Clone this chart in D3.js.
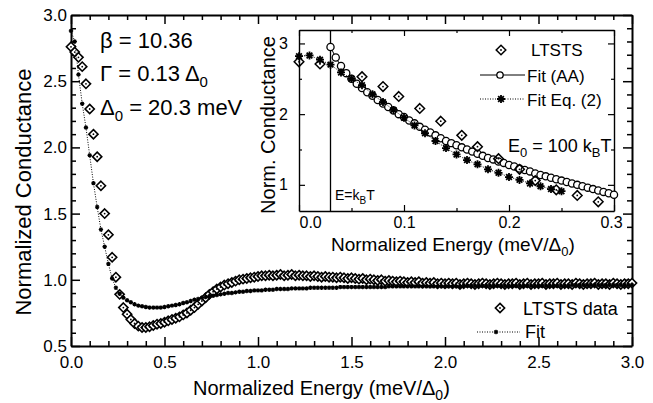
<!DOCTYPE html>
<html>
<head>
<meta charset="utf-8">
<script src="https://cdn.jsdelivr.net/npm/d3@7"></script>
<style>
  body { margin: 0; background: #fff; }
  svg { display: block; font-family: "Liberation Sans", Arial, Helvetica, sans-serif; }
  .axis text { fill: #000; }
  .axis path, .axis line { stroke: #000; }
</style>
</head>
<body>
<div id="chart"></div>
<script>
// ---- main panel data (energy in meV/Delta0, normalized conductance) ----
var mainEnergy = [
  0.00, 0.02, 0.04, 0.06, 0.08, 0.10, 0.12, 0.14, 0.16, 0.18,
  0.20, 0.22, 0.24, 0.26, 0.28, 0.30, 0.32, 0.34, 0.36, 0.38,
  0.40, 0.42, 0.44, 0.46, 0.48, 0.50, 0.52, 0.54, 0.56, 0.58,
  0.60, 0.62, 0.64, 0.66, 0.68, 0.70, 0.72, 0.74, 0.76, 0.78,
  0.80, 0.82, 0.84, 0.86, 0.88, 0.90, 0.92, 0.94, 0.96, 0.98,
  1.00, 1.02, 1.04, 1.06, 1.08, 1.10, 1.12, 1.14, 1.16, 1.18,
  1.20, 1.22, 1.24, 1.26, 1.28, 1.30, 1.32, 1.34, 1.36, 1.38,
  1.40, 1.42, 1.44, 1.46, 1.48, 1.50, 1.52, 1.54, 1.56, 1.58,
  1.60, 1.62, 1.64, 1.66, 1.68, 1.70, 1.72, 1.74, 1.76, 1.78,
  1.80, 1.82, 1.84, 1.86, 1.88, 1.90, 1.92, 1.94, 1.96, 1.98,
  2.00, 2.02, 2.04, 2.06, 2.08, 2.10, 2.12, 2.14, 2.16, 2.18,
  2.20, 2.22, 2.24, 2.26, 2.28, 2.30, 2.32, 2.34, 2.36, 2.38,
  2.40, 2.42, 2.44, 2.46, 2.48, 2.50, 2.52, 2.54, 2.56, 2.58,
  2.60, 2.62, 2.64, 2.66, 2.68, 2.70, 2.72, 2.74, 2.76, 2.78,
  2.80, 2.82, 2.84, 2.86, 2.88, 2.90, 2.92, 2.94, 2.96, 2.98,
  3.00
];
var ltstsData = [
  2.76, 2.72, 2.68, 2.61, 2.48, 2.29, 2.10, 1.93, 1.71, 1.50,
  1.34, 1.17, 1.02, 0.89, 0.79, 0.74, 0.70, 0.67, 0.65, 0.64,
  0.64, 0.645, 0.655, 0.665, 0.67, 0.68, 0.69, 0.70, 0.71, 0.72,
  0.735, 0.75, 0.77, 0.79, 0.815, 0.84, 0.865, 0.89, 0.91, 0.93,
  0.945, 0.96, 0.97, 0.98, 0.99, 1.00, 1.005, 1.01, 1.015, 1.02,
  1.025, 1.03, 1.03, 1.035, 1.03, 1.035, 1.04, 1.03, 1.035, 1.04,
  1.03, 1.035, 1.03, 1.03, 1.025, 1.03, 1.025, 1.02, 1.025, 1.02,
  1.02, 1.015, 1.02, 1.015, 1.01, 1.015, 1.01, 1.005, 1.01, 1.00,
  1.005, 1.00, 0.995, 1.00, 0.99, 0.995, 0.99, 0.985, 0.99, 0.985,
  0.98, 0.985, 0.98, 0.985, 0.975, 0.98, 0.975, 0.98, 0.97, 0.975,
  0.97, 0.975, 0.97, 0.975, 0.965, 0.97, 0.975, 0.97, 0.965, 0.97,
  0.975, 0.97, 0.965, 0.97, 0.975, 0.97, 0.965, 0.97, 0.97, 0.975,
  0.965, 0.97, 0.975, 0.965, 0.97, 0.97, 0.975, 0.965, 0.97, 0.97,
  0.975, 0.965, 0.97, 0.97, 0.965, 0.975, 0.97, 0.965, 0.97, 0.97,
  0.975, 0.965, 0.97, 0.97, 0.965, 0.975, 0.97, 0.965, 0.97, 0.97,
  0.975
];
var fitData = [
  2.88, 2.80, 2.55, 2.33, 2.15, 1.94, 1.73, 1.55, 1.38, 1.25,
  1.12, 1.01, 0.94, 0.895, 0.865, 0.845, 0.83, 0.815, 0.805, 0.80,
  0.795, 0.79, 0.79, 0.79, 0.79, 0.795, 0.80, 0.805, 0.81, 0.815,
  0.825, 0.83, 0.84, 0.85, 0.855, 0.865, 0.87, 0.875, 0.88, 0.885,
  0.89, 0.895, 0.90, 0.90, 0.905, 0.91, 0.91, 0.915, 0.915, 0.92,
  0.92, 0.92, 0.925, 0.925, 0.925, 0.93, 0.93, 0.93, 0.93, 0.935,
  0.935, 0.935, 0.935, 0.935, 0.94, 0.94, 0.94, 0.94, 0.94, 0.94,
  0.94, 0.94, 0.945, 0.945, 0.945, 0.945, 0.945, 0.945, 0.945, 0.945,
  0.945, 0.945, 0.945, 0.945, 0.945, 0.95, 0.95, 0.95, 0.95, 0.95,
  0.95, 0.95, 0.95, 0.95, 0.95, 0.95, 0.95, 0.95, 0.95, 0.95,
  0.95, 0.95, 0.95, 0.95, 0.95, 0.955, 0.955, 0.955, 0.955, 0.955,
  0.955, 0.955, 0.955, 0.955, 0.955, 0.955, 0.955, 0.955, 0.955, 0.955,
  0.955, 0.955, 0.955, 0.955, 0.955, 0.955, 0.955, 0.955, 0.955, 0.955,
  0.955, 0.955, 0.955, 0.955, 0.96, 0.96, 0.96, 0.96, 0.96, 0.96,
  0.96, 0.96, 0.96, 0.96, 0.96, 0.96, 0.96, 0.96, 0.96, 0.96,
  0.96
];

// ---- inset data ----
var insetLtstsE = [0.0, 0.02, 0.06, 0.08, 0.095, 0.115, 0.135, 0.155, 0.17, 0.19, 0.21, 0.225, 0.245, 0.265, 0.285];
var insetLtstsG = [2.74, 2.71, 2.53, 2.39, 2.25, 2.08, 1.90, 1.70, 1.54, 1.37, 1.22, 1.06, 0.93, 0.85, 0.76];

var fitAAE = [
  0.030, 0.035, 0.040, 0.045, 0.050, 0.055, 0.060, 0.065, 0.070, 0.075,
  0.080, 0.085, 0.090, 0.095, 0.100, 0.105, 0.110, 0.115, 0.120, 0.125,
  0.130, 0.135, 0.140, 0.145, 0.150, 0.155, 0.160, 0.165, 0.170, 0.175,
  0.180, 0.185, 0.190, 0.195, 0.200, 0.205, 0.210, 0.215, 0.220, 0.225,
  0.230, 0.235, 0.240, 0.245, 0.250, 0.255, 0.260, 0.265, 0.270, 0.275,
  0.280, 0.285, 0.290, 0.295, 0.300
];
var fitAAG = [
  2.95, 2.80, 2.68, 2.58, 2.50, 2.43, 2.37, 2.31, 2.26, 2.20,
  2.15, 2.10, 2.05, 2.00, 1.96, 1.91, 1.87, 1.82, 1.78, 1.74,
  1.70, 1.66, 1.62, 1.59, 1.56, 1.53, 1.50, 1.47, 1.44, 1.41,
  1.38, 1.36, 1.33, 1.31, 1.28, 1.26, 1.23, 1.21, 1.19, 1.16,
  1.14, 1.12, 1.10, 1.08, 1.06, 1.04, 1.02, 1.00, 0.98, 0.96,
  0.94, 0.92, 0.90, 0.88, 0.86
];

var fitEq2E = [0.00, 0.01, 0.02, 0.03, 0.04, 0.05, 0.06, 0.07, 0.08, 0.09,
               0.10, 0.11, 0.12, 0.13, 0.14, 0.15, 0.16, 0.17, 0.18, 0.19,
               0.20, 0.21, 0.22, 0.23, 0.24, 0.25];
var fitEq2G = [2.82, 2.83, 2.77, 2.70, 2.59, 2.50, 2.41, 2.28, 2.17, 2.06,
               1.95, 1.84, 1.73, 1.62, 1.52, 1.43, 1.35, 1.29, 1.22, 1.17,
               1.11, 1.07, 1.02, 0.98, 0.94, 0.91];

// ---- tick labels ----
var mainXTicks = [0, 0.5, 1.0, 1.5, 2.0, 2.5, 3.0];
var mainYTicks = [0.5, 1.0, 1.5, 2.0, 2.5, 3.0];
var insetXTicks = [0, 0.1, 0.2, 0.3];
var insetYTicks = [1, 2, 3];

var svgWidth = 653;
var svgHeight = 403;

var svg = d3.select("#chart")
  .append("svg")
  .attr("width", svgWidth)
  .attr("height", svgHeight);

var xMain = d3.scaleLinear().domain([0, 3]).range([71, 632]);
var yMain = d3.scaleLinear().domain([0.5, 3]).range([346, 15]);

var xIn = d3.scaleLinear().domain([0, 0.3]).range([299, 614]);
var yIn = d3.scaleLinear().domain([0.63, 3.19]).range([211, 30]);

function diamond(r) {
  return `M0,${-r}L${r},0L0,${r}L${-r},0Z`;
}
function star(r) {
  var a = r * 0.71;
  return `M${-r},0H${r}M0,${-r}V${r}M${-a},${-a}L${a},${a}M${-a},${a}L${a},${-a}`;
}

// box with inward ticks on all four sides
function boxAxes(x, y, o) {
  var g = svg.append("g").attr("class", "axis");
  var xl = x.range()[0], xr = x.range()[1], yb = y.range()[0], yt = y.range()[1];

  var sides = [
    [d3.axisBottom(x), `translate(0,${yb})`, o.xMajor, o.xMinor, o.xFmt, o.xPad, "bottom"],
    [d3.axisTop(x), `translate(0,${yt})`, o.xMajor, o.xMinor, null, 0, "top"],
    [d3.axisLeft(y), `translate(${xl},0)`, o.yMajor, o.yMinor, o.yFmt, o.yPad, "left"],
    [d3.axisRight(y), `translate(${xr},0)`, o.yMajor, o.yMinor, null, 0, "right"]
  ];
  sides.forEach(function(s) {
    var major = s[0].tickValues(s[2]).tickSizeInner(-o.big).tickSizeOuter(0).tickPadding(s[5])
      .tickFormat(s[4] ? s[4] : "");
    var gm = g.append("g").attr("class", s[6]).attr("transform", s[1]).call(major);
    gm.selectAll("text").attr("font-size", o.font).attr("font-family", null);
    gm.select(".domain").attr("stroke-width", o.width);
    gm.selectAll(".tick line").attr("stroke-width", o.tickWidth);

    var minor = s[0].tickValues(s[3]).tickSizeInner(-o.small).tickFormat("");
    var gn = g.append("g").attr("transform", s[1]).call(minor);
    gn.select(".domain").remove();
    gn.selectAll(".tick line").attr("stroke-width", o.tickWidth);
  });
  return g;
}

// ================= main panel =================
boxAxes(xMain, yMain, {
  xMajor: mainXTicks,
  xMinor: d3.range(0.1, 3, 0.1).filter(v => Math.abs(v * 2 - Math.round(v * 2)) > 1e-6),
  yMajor: mainYTicks,
  yMinor: d3.range(0.6, 3, 0.1).filter(v => Math.abs(v * 2 - Math.round(v * 2)) > 1e-6),
  xFmt: d3.format(".1f"), yFmt: d3.format(".1f"),
  xPad: 10, yPad: 4, font: 17, big: 9, small: 5, width: 2, tickWidth: 1.5
});

var mainPts = mainEnergy.map((e, i) => ({e: e, d: ltstsData[i], f: fitData[i]}));

// LTSTS diamonds
var dg = svg.append("g");
dg.selectAll("path")
  .data(mainPts)
  .enter()
  .append("path")
  .attr("transform", d => `translate(${xMain(d.e)},${yMain(d.d)})`)
  .attr("d", diamond(4.6))
  .attr("fill", "#fff")
  .attr("stroke", "#000")
  .attr("stroke-width", 1.6);
dg.selectAll("circle")
  .data(mainPts)
  .enter()
  .append("circle")
  .attr("cx", d => xMain(d.e))
  .attr("cy", d => yMain(d.d))
  .attr("r", 0.9)
  .attr("fill", "#000");

// Fit: dotted line with small asterisks
svg.append("path")
  .datum(mainPts)
  .attr("d", d3.line().x(d => xMain(d.e)).y(d => yMain(d.f)))
  .attr("fill", "none")
  .attr("stroke", "#000")
  .attr("stroke-width", 1)
  .attr("stroke-dasharray", "1,1.5");
svg.append("g").selectAll("path")
  .data(mainPts)
  .enter()
  .append("path")
  .attr("transform", d => `translate(${xMain(d.e)},${yMain(d.f)})`)
  .attr("d", star(2.2))
  .attr("stroke", "#000")
  .attr("stroke-width", 1.2);

// parameters text
var par = svg.append("g").attr("font-size", 22).attr("fill", "#000");
par.append("text").attr("x", 100).attr("y", 48).text("\u03B2 = 10.36");
var t2 = par.append("text").attr("x", 100).attr("y", 81);
t2.append("tspan").text("\u0393 = 0.13 \u0394");
t2.append("tspan").attr("font-size", 15).attr("dy", 6).text("0");
var t3 = par.append("text").attr("x", 100).attr("y", 115);
t3.append("tspan").text("\u0394");
t3.append("tspan").attr("font-size", 15).attr("dy", 6).text("0");
t3.append("tspan").attr("dy", -6).text(" = 20.3 meV");

// main legend
svg.append("path").attr("transform", "translate(500,308)").attr("d", diamond(4.6))
  .attr("fill", "#fff").attr("stroke", "#000").attr("stroke-width", 1.6);
svg.append("circle").attr("cx", 500).attr("cy", 308).attr("r", 0.9).attr("fill", "#000");
svg.append("text").attr("x", 523).attr("y", 315).attr("font-size", 18).text("LTSTS data");
svg.append("line").attr("x1", 477).attr("x2", 520).attr("y1", 332).attr("y2", 332)
  .attr("stroke", "#000").attr("stroke-width", 1).attr("stroke-dasharray", "1,1.5");
svg.append("path").attr("transform", "translate(496,332)").attr("d", star(2.2))
  .attr("stroke", "#000").attr("stroke-width", 1.2);
svg.append("text").attr("x", 525).attr("y", 338).attr("font-size", 18).text("Fit");

// main axis titles
var xt = svg.append("text").attr("x", 193).attr("y", 395).attr("font-size", 20);
xt.append("tspan").text("Normalized Energy (meV/\u0394");
xt.append("tspan").attr("font-size", 14).attr("dy", 5).text("0");
xt.append("tspan").attr("dy", -5).text(")");

svg.append("text")
  .attr("transform", "translate(31,192) rotate(-90)")
  .attr("text-anchor", "middle")
  .attr("font-size", 22)
  .text("Normalized Conductance");

// ================= inset =================
svg.append("rect")
  .attr("x", xIn.range()[0]).attr("y", yIn.range()[1])
  .attr("width", xIn.range()[1] - xIn.range()[0])
  .attr("height", yIn.range()[0] - yIn.range()[1])
  .attr("fill", "#fff");

var insetAx = boxAxes(xIn, yIn, {
  xMajor: insetXTicks,
  xMinor: [0.05, 0.15, 0.25],
  yMajor: insetYTicks,
  yMinor: [1.5, 2.5],
  xFmt: d3.format(".1f"), yFmt: d3.format("d"),
  xPad: 6, yPad: 11, font: 16, big: 6, small: 3, width: 1.4, tickWidth: 1.2
});
// first inset label sits just inside the frame
insetAx.select(".bottom").selectAll(".tick text")
  .filter(d => d === 0)
  .attr("text-anchor", "start");
insetAx.select(".bottom").selectAll(".tick text")
  .filter(d => d === 0.3)
  .attr("x", -3);

// E = kBT marker line
svg.append("line")
  .attr("x1", xIn(0.03)).attr("x2", xIn(0.03))
  .attr("y1", yIn.range()[0]).attr("y2", yIn.range()[1])
  .attr("stroke", "#000").attr("stroke-width", 1.3);

var aaPts = fitAAE.map((e, i) => ({e: e, g: fitAAG[i]}));
svg.append("path")
  .datum(aaPts)
  .attr("d", d3.line().x(d => xIn(d.e)).y(d => yIn(d.g)))
  .attr("fill", "none").attr("stroke", "#000").attr("stroke-width", 1);
svg.append("g").selectAll("circle")
  .data(aaPts)
  .enter()
  .append("circle")
  .attr("cx", d => xIn(d.e))
  .attr("cy", d => yIn(d.g))
  .attr("r", 3.6)
  .attr("fill", "#fff")
  .attr("stroke", "#000")
  .attr("stroke-width", 1.3);

var eqPts = fitEq2E.map((e, i) => ({e: e, g: fitEq2G[i]}));
svg.append("path")
  .datum(eqPts)
  .attr("d", d3.line().x(d => xIn(d.e)).y(d => yIn(d.g)))
  .attr("fill", "none").attr("stroke", "#000").attr("stroke-width", 1)
  .attr("stroke-dasharray", "1,1.5");
svg.append("g").selectAll("path")
  .data(eqPts)
  .enter()
  .append("path")
  .attr("transform", d => `translate(${xIn(d.e)},${yIn(d.g)})`)
  .attr("d", star(4))
  .attr("stroke", "#000")
  .attr("stroke-width", 1.8);

var inD = insetLtstsE.map((e, i) => ({e: e, g: insetLtstsG[i]}));
var idg = svg.append("g");
idg.selectAll("path")
  .data(inD)
  .enter()
  .append("path")
  .attr("transform", d => `translate(${xIn(d.e)},${yIn(d.g)})`)
  .attr("d", diamond(4.8))
  .attr("fill", "none")
  .attr("stroke", "#000")
  .attr("stroke-width", 1.5);
idg.selectAll("circle")
  .data(inD)
  .enter()
  .append("circle")
  .attr("cx", d => xIn(d.e))
  .attr("cy", d => yIn(d.g))
  .attr("r", 0.9)
  .attr("fill", "#000");

// inset legend
svg.append("path").attr("transform", "translate(501,50)").attr("d", diamond(4.8))
  .attr("fill", "none").attr("stroke", "#000").attr("stroke-width", 1.5);
svg.append("circle").attr("cx", 501).attr("cy", 50).attr("r", 0.9).attr("fill", "#000");
svg.append("text").attr("x", 531).attr("y", 56).attr("font-size", 17).text("LTSTS");

svg.append("line").attr("x1", 480).attr("x2", 525).attr("y1", 75).attr("y2", 75)
  .attr("stroke", "#000").attr("stroke-width", 1);
svg.append("circle").attr("cx", 500).attr("cy", 75).attr("r", 3.2)
  .attr("fill", "#fff").attr("stroke", "#000").attr("stroke-width", 1.3);
svg.append("text").attr("x", 527).attr("y", 82).attr("font-size", 17).text("Fit (AA)");

svg.append("line").attr("x1", 480).attr("x2", 525).attr("y1", 99).attr("y2", 99)
  .attr("stroke", "#000").attr("stroke-width", 1).attr("stroke-dasharray", "1,1.5");
svg.append("path").attr("transform", "translate(501,99)").attr("d", star(4))
  .attr("stroke", "#000").attr("stroke-width", 1.8);
svg.append("text").attr("x", 527).attr("y", 106).attr("font-size", 17).text("Fit Eq. (2)");

var e0 = svg.append("text").attr("x", 508).attr("y", 152).attr("font-size", 18);
e0.append("tspan").text("E");
e0.append("tspan").attr("font-size", 13).attr("dy", 5).text("0");
e0.append("tspan").attr("dy", -5).text(" = 100 k");
e0.append("tspan").attr("font-size", 13).attr("dy", 5).text("B");
e0.append("tspan").attr("dy", -5).text("T");

var ek = svg.append("text").attr("x", 335).attr("y", 200).attr("font-size", 14);
ek.append("tspan").text("E=k");
ek.append("tspan").attr("font-size", 10).attr("dy", 4).text("B");
ek.append("tspan").attr("dy", -4).text("T");

// inset axis titles
var ixt = svg.append("text").attr("x", 331).attr("y", 251).attr("font-size", 19);
ixt.append("tspan").text("Normalized Energy (meV/\u0394");
ixt.append("tspan").attr("font-size", 13).attr("dy", 5).text("0");
ixt.append("tspan").attr("dy", -5).text(")");

svg.append("text")
  .attr("transform", "translate(275,125) rotate(-90)")
  .attr("text-anchor", "middle")
  .attr("font-size", 20)
  .text("Norm. Conductance");
</script>
</body>
</html>
